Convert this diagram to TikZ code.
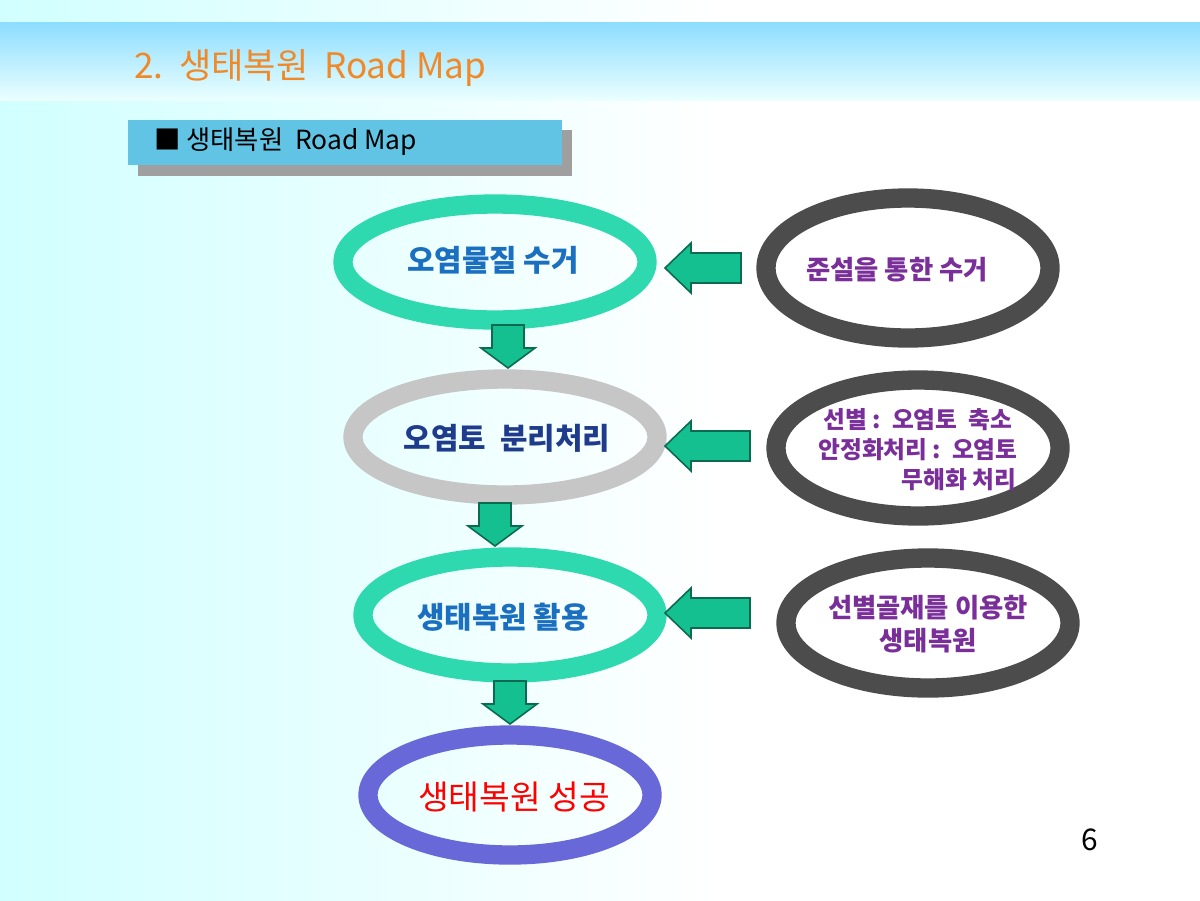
\documentclass[tikz,border=0pt]{standalone}
\usepackage{fontspec}
\setmainfont{Noto Sans CJK KR}
\definecolor{teal1}{HTML}{2FD9B0}
\definecolor{titleor}{HTML}{F08A28}
\definecolor{navy1}{HTML}{1F3C8C}
\definecolor{blue1}{HTML}{1A6FC0}
\definecolor{purp1}{HTML}{7A2E9A}
\definecolor{arrg}{HTML}{14C08F}
\definecolor{hbox}{HTML}{62C4E4}
\definecolor{violet1}{HTML}{6868D8}
\tikzset{
  ring/.style={line width=11pt},
  garrow/.style={draw=arrg!55!black, fill=arrg, line width=0.9pt, line join=miter},
  pics/larr/.style={code={
    \path[garrow] (0,0) -- (26,-25) -- (26,-15) -- (#1,-15) -- (#1,15) -- (26,15) -- (26,25) -- cycle;}},
  pics/darr/.style={code={
    \path[garrow] (0,0) -- (-27,-20) -- (-16,-20) -- (-16,-43) -- (16,-43) -- (16,-20) -- (27,-20) -- cycle;}},
}
\begin{document}
\begin{tikzpicture}[x=0.02cm,y=-0.02cm]
 \useasboundingbox (0,0) rectangle (1200,900);
 % background
 \shade[left color=cyan!18, right color=white] (0,0) rectangle (720,900);
 \fill[white] (720,0) rectangle (1200,900);
 \shade[top color=blue!30!cyan!45, bottom color=cyan!8] (0,22) rectangle (1200,100);
 \node[anchor=west, text=titleor, font=\fontsize{20}{24}\selectfont] (title) at (128,68) {2.\ \ 생태복원\ \ Road Map};
 % header box
 \fill[gray!75] (138,130) rectangle (572,176);
 \fill[hbox] (128,120) rectangle (562,165);
 \node[anchor=west, font=\fontsize{15}{18}\selectfont] (head) at (148,142) {■ 생태복원\ \ Road Map};
 % left ellipses
 \draw[ring, teal1] (495,262) ellipse (152 and 58);
 \draw[ring, gray!45] (505,437) ellipse (152 and 58);
 \draw[ring, teal1] (510,615) ellipse (147 and 58);
 \draw[ring, violet1] (510,795) ellipse (142 and 60);
 \node[text=blue1, font=\bfseries\fontsize{17}{20}\selectfont] (s1) at (493,260) {오염물질 수거};
 \node[text=navy1, font=\bfseries\fontsize{17}{20}\selectfont] (s2) at (507,438) {오염토\ \ 분리처리};
 \node[text=blue1, font=\bfseries\fontsize{17}{20}\selectfont] (s3) at (503,617) {생태복원 활용};
 \node[text=red, font=\fontsize{19}{22}\selectfont] (s4) at (514,797) {생태복원 성공};
 % right ellipses
 \draw[ring, black!70] (908,268) ellipse (142 and 70);
 \draw[ring, black!70] (918,448) ellipse (142 and 68);
 \draw[ring, black!70] (928,623) ellipse (142 and 65);
 \node[text=purp1, font=\bfseries\fontsize{15}{18}\selectfont] (r1) at (897,270) {준설을 통한 수거};
 \node[text=purp1, font=\bfseries\fontsize{13.5}{17}\selectfont, align=left] (r2) at (918,450)
   {\ 선별 :\ \ 오염토\ \ 축소\\안정화처리 :\ \ 오염토\\\hspace{3.5em}무해화 처리};
 \node[text=purp1, font=\bfseries\fontsize{15}{19}\selectfont, align=center] (r3) at (928,624)
   {선별골재를 이용한\\생태복원};
 % arrows
 \pic at (665,268) {larr=76};
 \pic at (665,446) {larr=85};
 \pic at (665,613) {larr=85};
 \pic at (508,368) {darr};
 \pic at (495,546) {darr};
 \pic at (510,724) {darr};
 \node[font=\fontsize{17}{20}\selectfont] (pg) at (1090,840) {6};
\end{tikzpicture}
\end{document}
